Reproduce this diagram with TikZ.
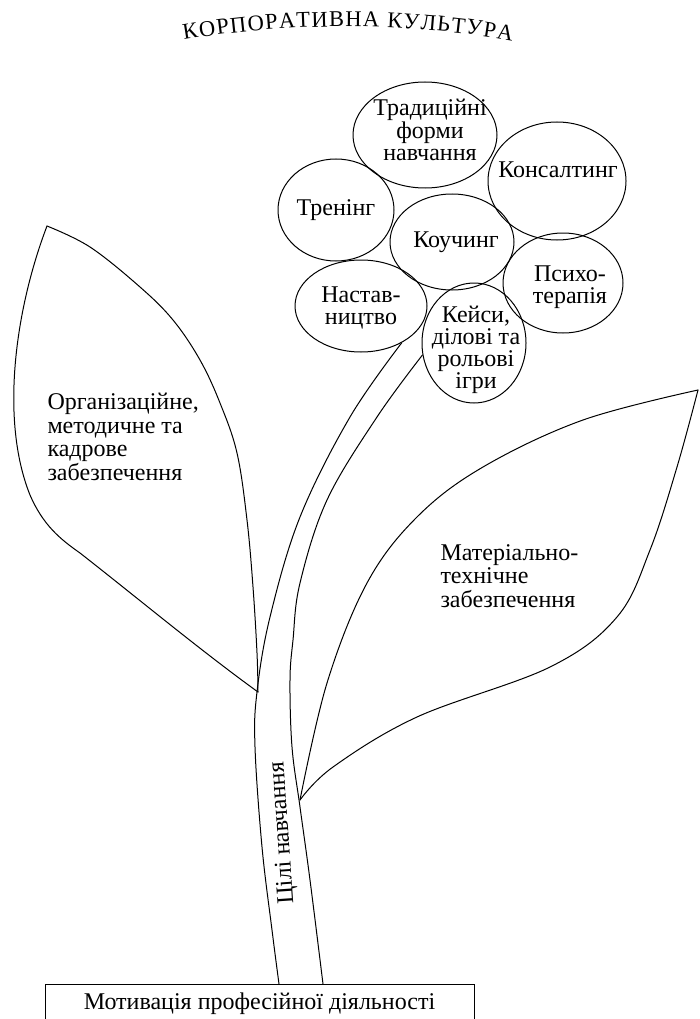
\documentclass[tikz,border=0pt]{standalone}
\usepackage{fontspec}
\setmainfont{Liberation Serif}
\usetikzlibrary{shapes.geometric,decorations.text}
\newcommand{\titlefnt}{\fontsize{22.5}{22.5}\selectfont}
\begin{document}
\begin{tikzpicture}[x=1pt,y=-1pt, line width=1pt,
  petal/.style={draw, ellipse, inner sep=0pt},
  ptext/.style={align=center, font=\fontsize{24}{22.5}\selectfont, inner sep=0pt},
  ltext/.style={align=left, anchor=west, font=\fontsize{24}{23.5}\selectfont, inner sep=0pt},
  outline/.style={draw, line join=round, line cap=round}]
\useasboundingbox (0,0) rectangle (700,1019);

% title along an arc
\path[decorate, decoration={text along path, text align=fit to path,
  text={|\titlefnt|КОРПОРАТИВНА КУЛЬТУРА}}]
  (184,40) .. controls (290,22) and (405,22) .. (512,41);

% petals
\node[petal, minimum width=144, minimum height=106] (trad) at (425,135) {};
\node[petal, minimum width=138, minimum height=118] (kons) at (557,181) {};
\node[petal, minimum width=116, minimum height=102] (tren) at (336,210) {};
\node[petal, minimum width=124, minimum height=96] (kouch) at (452,242) {};
\node[petal, minimum width=120, minimum height=100] (psych) at (563,283) {};
\node[petal, minimum width=132, minimum height=92] (nast) at (361,306) {};
\node[petal, minimum width=104, minimum height=120] (keis) at (474,343) {};

\node[ptext] (tradt) at (430,130) {Традиційні\\форми\\навчання};
\node[ptext] (konst) at (558,170) {Консалтинг};
\node[ptext] (trent) at (336,210) {Тренінг};
\node[ptext] (koucht) at (456,242) {Коучинг};
\node[ptext] (psycht) at (570,287) {Психо-\\терапія};
\node[ptext] (nastt) at (361,308) {Настав-\\ництво};
\node[ptext, font=\fontsize{24}{22}\selectfont] (keist) at (476,350) {Кейси,\\ділові та\\рольові\\ігри};

% bottom box
\node[draw, minimum width=429, minimum height=40, inner sep=0pt,
  font=\fontsize{24}{24}\selectfont] (motiv) at (259.5,1004) {Мотивація професійної діяльності};

% stem
\draw[outline] plot[smooth, tension=0.6] coordinates {(279,984) (272,930) (262,847) (255,747) (257,692) (270,617) (300,517) (350,417) (nast.-42)};
\draw[outline] plot[smooth, tension=0.6] coordinates {(323,984) (310,880) (300,807) (292,747) (290,680) (293,640) (300,583) (327,500) (377,417) (keis.193)};

% left leaf
\coordinate (ltip) at (47,226);
\coordinate (lbase) at (258,692);
\draw[outline] (ltip) .. controls (15,310) and (0,420) .. (30,495)
  .. controls (43,525) and (60,539) .. (80,553)
  .. controls (140,600) and (200,650) .. (lbase);
\draw[outline] plot[smooth, tension=0.6] coordinates {(ltip) (90,247) (140,287) (173,320) (200,360) (220,403) (237,453) (247,520) (253,587) (257,653) (lbase)};

% right leaf
\coordinate (rtip) at (698,390);
\coordinate (rbase) at (300,800);
\draw[outline] plot[smooth, tension=0.6] coordinates {(rbase) (327,683) (367,583) (417,517) (483,467) (583,420) (rtip)};
\draw[outline] plot[smooth, tension=0.6] coordinates {(rtip) (677,467) (650,550) (617,617) (550,667) (417,717) (333,767) (rbase)};

% leaf texts
\node[ltext] (org) at (47,437) {Організаційне,\\методичне та\\кадрове\\забезпечення};
\node[ltext] (mat) at (440,576) {Матеріально-\\технічне\\забезпечення};

% stem text
\node[font=\fontsize{24}{24}\selectfont, rotate=94, inner sep=0pt] (cili) at (283,833) {Цілі навчання};
\end{tikzpicture}
\end{document}
